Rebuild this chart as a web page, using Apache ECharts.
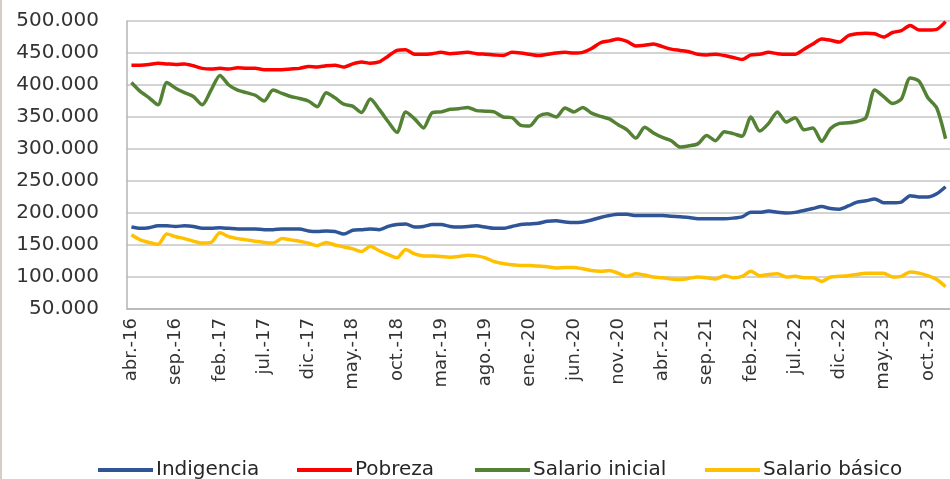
<!DOCTYPE html>
<html>
<head>
<meta charset="utf-8">
<script src="https://cdn.jsdelivr.net/npm/echarts@6/dist/echarts.min.js"></script>
<style>
  html, body { margin: 0; padding: 0; background: #fff; }
  body { border-left: 2px solid #d8cdc2; box-sizing: border-box; }
  #chart { width: 948px; height: 479px; }
</style>
</head>
<body>
<div id="chart"></div>
<script>
// meses abreviados para las etiquetas del eje x
var meses = ["ene.", "feb.", "mar.", "abr.", "may.", "jun.", "jul.", "ago.", "sep.", "oct.", "nov.", "dic."];
var categorias = [];
for (var i = 0; i < 93; i++) {
  var m = (3 + i) % 12;
  var y = 16 + Math.floor((3 + i) / 12);
  categorias.push(meses[m] + "-" + y);
}

// valores en miles
var indigencia = [178,176,177,180,180,179,180,179,176,176,177,176,175,175,175,174,174,175,175,175,
  172,171,172,171,167,173,174,175,174,179,182,183,178,179,182,182,179,178,179,180,
  178,176,176,179,182,183,184,187,188,186,185,186,189,193,196,198,198,196,196,196,
  196,195,194,193,191,191,191,191,192,194,201,201,203,201,200,201,204,207,210,207,
  206,211,217,219,222,216,216,217,227,225,225,230,241];

var pobreza = [431,431,432,434,433,432,433,430,426,425,426,425,427,426,426,424,424,424,425,426,
  429,428,430,431,428,433,436,434,436,445,454,455,448,448,449,451,449,450,451,449,
  448,447,446,451,450,448,446,448,450,451,450,451,457,466,469,472,468,461,462,464,
  460,456,454,452,448,447,448,446,443,440,447,448,451,449,448,448,456,464,472,470,
  467,477,480,481,480,475,482,485,493,486,486,487,499];

var salarioInicial = [404,390,380,369,404,395,388,382,369,392,415,400,392,388,384,375,392,387,382,379,
  375,366,388,380,370,367,357,378,362,343,326,358,347,333,357,358,362,363,365,360,
  359,358,350,349,337,336,351,355,350,364,358,365,356,351,347,338,330,317,334,325,
  318,313,303,305,308,321,313,327,324,320,350,328,340,358,342,349,330,333,312,332,
  340,341,343,349,392,382,371,378,411,406,380,364,316];

var salarioBasico = [166,158,154,151,167,163,160,156,153,154,169,163,160,158,156,154,153,160,158,156,
  153,149,154,150,147,144,140,148,141,135,130,143,136,133,133,132,131,132,134,133,
  130,124,121,119,118,118,117,116,114,115,115,113,110,109,110,106,101,105,103,100,
  99,97,96,98,100,99,97,102,99,101,109,102,104,105,100,101,99,99,93,100,
  101,102,104,106,106,106,100,101,108,106,102,96,85];

var nombres = ['Indigencia', 'Pobreza', 'Salario inicial', 'Salario básico'];
var colores = ['#2f5597', '#ff0000', '#548235', '#ffc000'];

function miles(arr) {
  return arr.map(function (v) { return v * 1000; });
}

var chart = echarts.init(document.getElementById('chart'));
var serie = function (nombre, datos, color) {
  return {
    name: nombre,
    type: 'line',
    data: miles(datos),
    smooth: 0.25,
    showSymbol: false,
    lineStyle: { width: 3.5, color: color },
    itemStyle: { color: color }
  };
};

// una leyenda por serie para colocarlas como en el original
var posLeyenda = [91, 290, 468, 698];
var leyendas = nombres.map(function (n, k) {
  return {
    left: posLeyenda[k],
    top: 455,
    itemWidth: 55,
    itemHeight: 4,
    icon: 'rect',
    textStyle: { fontFamily: 'DejaVu Sans', fontSize: 20, color: '#262626', padding: [0, 0, 0, -2] },
    data: [n]
  };
});

var option = {
  animation: false,
  textStyle: { fontFamily: 'DejaVu Sans' },
  grid: { left: 125, top: 21, right: 0, bottom: 170 },
  legend: leyendas,
  xAxis: {
    type: 'category',
    data: categorias,
    boundaryGap: true,
    axisLine: { lineStyle: { color: '#b4b4b4', width: 1.5 } },
    axisTick: { show: false },
    axisLabel: {
      interval: 4,
      rotate: 90,
      margin: 9,
      fontSize: 18,
      color: '#333'
    }
  },
  yAxis: {
    type: 'value',
    min: 50000,
    max: 500000,
    interval: 50000,
    axisLine: { show: true, lineStyle: { color: '#b4b4b4', width: 1.5 } },
    axisTick: { show: false },
    splitLine: { lineStyle: { color: '#c4c4c4', width: 1.5 } },
    axisLabel: {
      margin: 28,
      fontSize: 20,
      color: '#333',
      formatter: function (v) {
        return String(v).replace(/\B(?=(\d{3})+(?!\d))/g, '.');
      }
    }
  },
  series: [
    serie(nombres[0], indigencia, colores[0]),
    serie(nombres[1], pobreza, colores[1]),
    serie(nombres[2], salarioInicial, colores[2]),
    serie(nombres[3], salarioBasico, colores[3])
  ]
};
chart.setOption(option);
</script>
</body>
</html>
